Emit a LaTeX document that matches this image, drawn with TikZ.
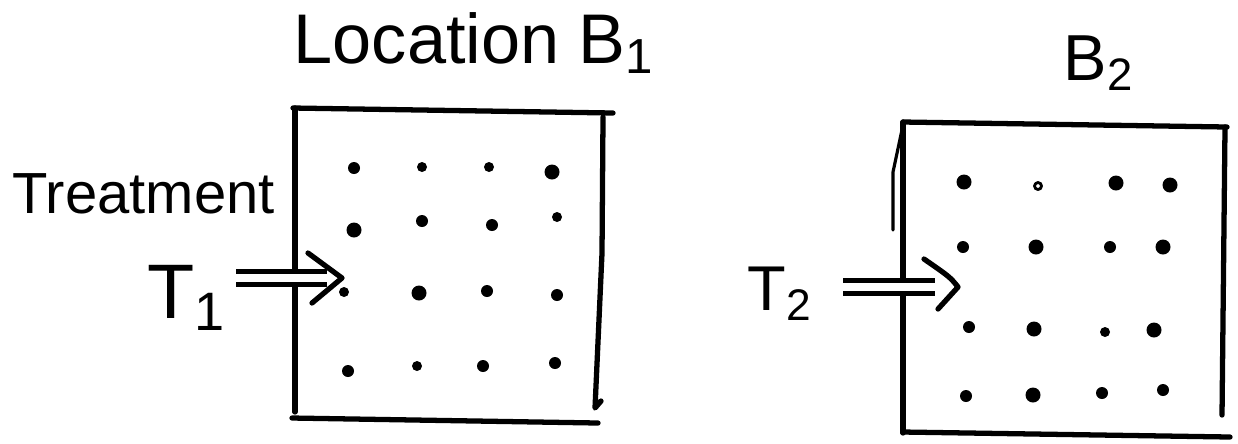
\documentclass[tikz,border=0pt]{standalone}
\usepackage{fontspec}
\setmainfont{Liberation Sans}
\usetikzlibrary{arrows.meta}

\begin{document}
\begin{tikzpicture}[
    x=0.1mm, y=-0.1mm, line cap=round, line join=round,
    pen/.style={line width=1.5pt},
    dot/.style={circle, fill, inner sep=0pt, minimum size=1.2mm},
    bigdot/.style={dot, minimum size=1.5mm},
    smalldot/.style={dot, minimum size=1mm},
    opendot/.style={circle, draw, inner sep=0pt, minimum size=0.7mm, line width=0.8pt},
    hand/.style={inner sep=0pt, anchor=base west},
    feed/.style={line width=1.4pt, line cap=butt, double distance=0.85mm},
    head/.style={line width=1.5pt}
]
\useasboundingbox (0,0) rectangle (1238,443);

% Labels
\node[hand, font=\fontsize{20}{24}\selectfont] (locB1) at (293,63) {Location B\textsubscript{1}};
\node[hand, font=\fontsize{18.5}{22}\selectfont] (locB2) at (1063,80) {B\textsubscript{2}};
\node[hand, font=\fontsize{16.5}{20}\selectfont] (treat) at (12,213) {Treatment};
\node[hand, font=\fontsize{22}{26}\selectfont] (T1) at (147,318) {T\textsubscript{1}};
\node[hand, font=\fontsize{18}{22}\selectfont] (T2) at (747,310) {T\textsubscript{2}};

% Plot at location B1
\draw[pen] (293,108) -- (613,113);
\draw[pen] (295,108) -- (295,412);
\draw[pen] (603,117) -- (602,253) -- (595,408) -- (601,401);
\draw[pen] (292,418) -- (598,423);

% Plot at location B2
\draw[pen] (903,122) -- (1227,127);
\draw[pen] (903,122) -- (903,433);
\draw[pen] (1225,127) -- (1222,415);
\draw[pen] (903,432) -- (1230,437);
\draw[line width=0.9pt] (893,230) -- (893,172) -- (903,125);

% Plants in B1
\node[dot] (L1_1) at (354,168) {};
\node[smalldot] (L1_2) at (422,167) {};
\node[smalldot] (L1_3) at (489,167) {};
\node[bigdot] (L1_4) at (552,172) {};
\node[bigdot] (L2_1) at (354,230) {};
\node[dot] (L2_2) at (422,221) {};
\node[dot] (L2_3) at (492,225) {};
\node[smalldot] (L2_4) at (557,217) {};
\node[smalldot] (L3_1) at (344,292) {};
\node[bigdot] (L3_2) at (419,293) {};
\node[dot] (L3_3) at (487,291) {};
\node[dot] (L3_4) at (557,295) {};
\node[dot] (L4_1) at (348,371) {};
\node[smalldot] (L4_2) at (417,366) {};
\node[dot] (L4_3) at (483,366) {};
\node[dot] (L4_4) at (555,363) {};

% Plants in B2
\node[bigdot] (R1_1) at (964,182) {};
\node[opendot] (R1_2) at (1038,186) {};
\node[bigdot] (R1_3) at (1116,183) {};
\node[bigdot] (R1_4) at (1170,185) {};
\node[dot] (R2_1) at (963,247) {};
\node[bigdot] (R2_2) at (1036,247) {};
\node[dot] (R2_3) at (1110,247) {};
\node[bigdot] (R2_4) at (1163,247) {};
\node[dot] (R3_1) at (969,327) {};
\node[bigdot] (R3_2) at (1034,329) {};
\node[smalldot] (R3_3) at (1105,332) {};
\node[bigdot] (R3_4) at (1154,330) {};
\node[dot] (R4_1) at (966,396) {};
\node[bigdot] (R4_2) at (1033,395) {};
\node[dot] (R4_3) at (1102,393) {};
\node[dot] (R4_4) at (1163,390) {};

% Treatment arrows
\coordinate (t1tip) at (342,278);
\coordinate (t2tip) at (958,287);
\draw[feed, shorten <=0.9mm] (T1.east |- t1tip) -- ([xshift=-1.5mm]t1tip);
\draw[head] ([shift={(-34,-25)}]t1tip) -- (t1tip) -- ([shift={(-30,25)}]t1tip);
\draw[feed, shorten <=3mm] (T2.east |- t2tip) -- ([xshift=-2.3mm]t2tip);
\draw[head] ([shift={(-34,-28)}]t2tip) .. controls ([shift={(-8,-10)}]t2tip) .. (t2tip) -- ([shift={(-20,22)}]t2tip);

\end{tikzpicture}
\end{document}
